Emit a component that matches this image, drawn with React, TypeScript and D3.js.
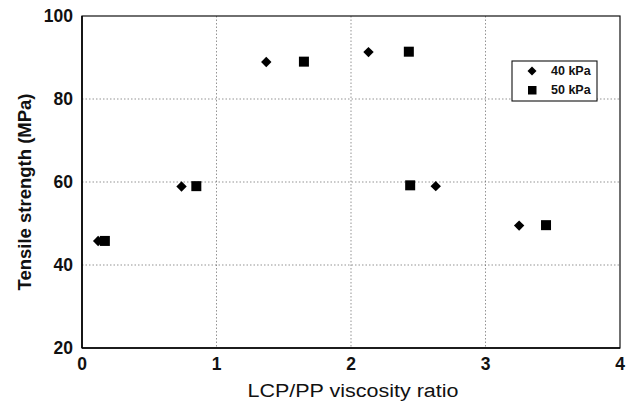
import React from "react";
import * as d3 from "d3";

const xTicks = [0, 1, 2, 3, 4];
const yTicks = [20, 40, 60, 80, 100];
const series40X = [0.12, 0.74, 1.37, 2.13, 2.63, 3.25];
const series40Y = [45.8, 58.9, 88.9, 91.3, 59.0, 49.5];
const series50X = [0.17, 0.85, 1.65, 2.43, 2.44, 3.45];
const series50Y = [45.8, 59.0, 89.0, 91.4, 59.2, 49.6];
const legendLabels = ["40 kPa", "50 kPa"];
const xTitle = "LCP/PP viscosity ratio";
const yTitle = "Tensile strength (MPa)";

export default function App() {
  const W = 630, H = 401;
  const left = 82, right = 620, top = 16, bottom = 348;
  const x = d3.scaleLinear().domain([0, 4]).range([left, right]);
  const y = d3.scaleLinear().domain([20, 100]).range([bottom, top]);
  const font = "'Liberation Sans', Arial, sans-serif";
  const diamond = (cx: number, cy: number, r = 5.2) =>
    `M${cx},${cy - r}L${cx + r},${cy}L${cx},${cy + r}L${cx - r},${cy}Z`;
  const sq = 10;
  const lg = { x0: 512, y0: 61, x1: 597, y1: 101 };
  return (
    <svg width={W} height={H} style={{ position: "absolute", left: 0, top: 0, background: "#fff" }}>
      <rect x={0} y={0} width={W} height={H} fill="#fff" />
      {xTicks.slice(1, -1).map((t) => (
        <line key={"gx" + t} x1={x(t)} x2={x(t)} y1={top} y2={bottom} stroke="#666" strokeWidth={0.7} strokeDasharray="1.5,2" />
      ))}
      {yTicks.slice(1, -1).map((t) => (
        <line key={"gy" + t} x1={left} x2={right} y1={y(t)} y2={y(t)} stroke="#666" strokeWidth={0.7} strokeDasharray="1.5,2" />
      ))}
      <rect x={left} y={top} width={right - left} height={bottom - top} fill="none" stroke="#111" strokeWidth={1.2} />
      <line x1={left} x2={left} y1={top} y2={bottom} stroke="#000" strokeWidth={1.6} />
      <line x1={left} x2={right} y1={bottom} y2={bottom} stroke="#000" strokeWidth={1.6} />
      {yTicks.map((t) => (
        <text key={"ty" + t} x={left - 9} y={y(t) + 6} textAnchor="end" fontFamily={font} fontSize={17.5} fontWeight="bold" fill="#111">{t}</text>
      ))}
      {xTicks.map((t) => (
        <text key={"tx" + t} x={x(t)} y={370} textAnchor="middle" fontFamily={font} fontSize={17.5} fontWeight="bold" fill="#111">{t}</text>
      ))}
      <text x={353} y={397} textAnchor="middle" fontFamily={font} fontSize={18} textLength={211} lengthAdjust="spacingAndGlyphs" fill="#111">{xTitle}</text>
      <text transform={`translate(31,192) rotate(-90)`} textAnchor="middle" fontFamily={font} fontSize={18.5} fontWeight="bold" fill="#111">{yTitle}</text>
      {series40X.map((v, i) => (
        <path key={"d" + i} d={diamond(x(v), y(series40Y[i]))} fill="#000" />
      ))}
      {series50X.map((v, i) => (
        <rect key={"s" + i} x={x(v) - sq / 2} y={y(series50Y[i]) - sq / 2} width={sq} height={sq} fill="#000" />
      ))}
      <rect x={lg.x0} y={lg.y0} width={lg.x1 - lg.x0} height={lg.y1 - lg.y0} fill="#fff" stroke="#111" strokeWidth={1.1} />
      <path d={diamond(532, 71, 4.5)} fill="#000" />
      <rect x={528} y={86} width={8.5} height={8.5} fill="#000" />
      {legendLabels.map((l, i) => (
        <text key={l} x={551} y={75 + i * 19} fontFamily={font} fontSize={12.5} fontWeight="bold" fill="#111">{l}</text>
      ))}
    </svg>
  );
}
